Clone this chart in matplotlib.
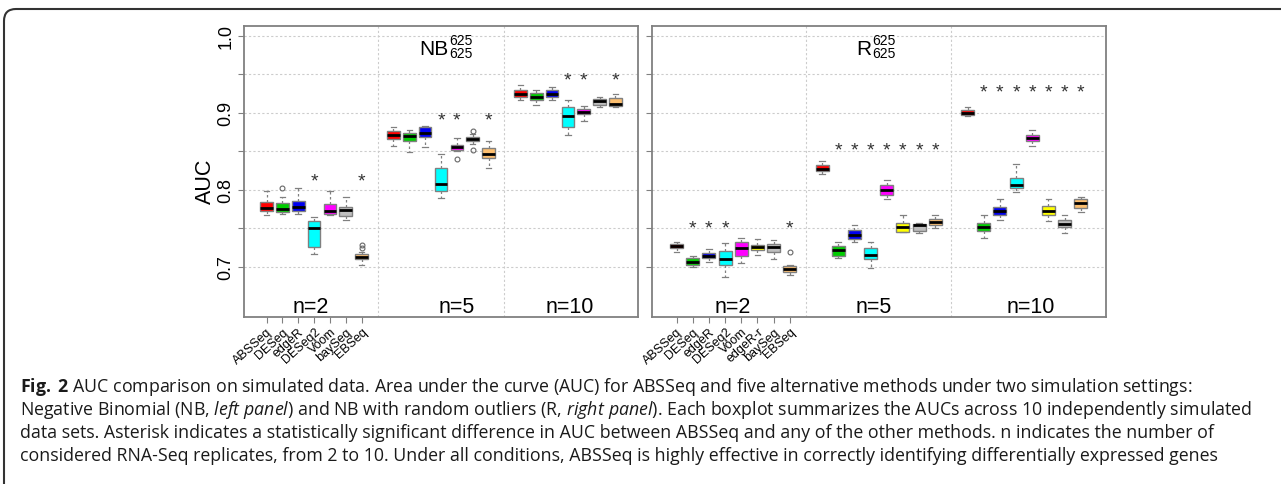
import matplotlib
matplotlib.use("Agg")
import matplotlib.pyplot as plt
from matplotlib.patches import FancyBboxPatch
import numpy as np

plt.rcParams['font.family'] = 'Liberation Sans'
plt.rcParams['mathtext.fontset'] = 'custom'
plt.rcParams['mathtext.rm'] = 'Open Sans'
plt.rcParams['mathtext.it'] = 'Open Sans:italic'
plt.rcParams['mathtext.bf'] = 'Open Sans:bold'

# ---- data ----
groups = ["n=2", "n=5", "n=10"]

nb_methods = ["ABSSeq", "DESeq", "edgeR", "DESeq2", "Voom", "baySeq", "EBSeq"]
nb_colors = ["#FF0000", "#00CD00", "#0000EE", "#00FFFF", "#FF00FF", "#BEBEBE", "#FDBF6F"]

nb_whislo = [[0.768, 0.769, 0.769, 0.717, 0.768, 0.761, 0.703],
             [0.857, 0.849, 0.855, 0.790, 0.851, 0.860, 0.829],
             [0.917, 0.910, 0.916, 0.871, 0.890, 0.907, 0.907]]
nb_q1 = [[0.772, 0.771, 0.773, 0.726, 0.769, 0.766, 0.710],
         [0.866, 0.863, 0.869, 0.798, 0.852, 0.864, 0.841],
         [0.921, 0.916, 0.920, 0.882, 0.898, 0.910, 0.909]]
nb_med = [[0.777, 0.775, 0.778, 0.751, 0.772, 0.774, 0.713],
          [0.871, 0.870, 0.874, 0.808, 0.855, 0.866, 0.847],
          [0.925, 0.921, 0.925, 0.896, 0.901, 0.915, 0.912]]
nb_q3 = [[0.784, 0.783, 0.786, 0.760, 0.782, 0.778, 0.717],
         [0.876, 0.874, 0.881, 0.829, 0.858, 0.869, 0.854],
         [0.929, 0.926, 0.929, 0.907, 0.905, 0.918, 0.919]]
nb_whishi = [[0.798, 0.791, 0.803, 0.765, 0.799, 0.791, 0.720],
             [0.881, 0.878, 0.883, 0.846, 0.867, 0.872, 0.864],
             [0.936, 0.930, 0.933, 0.916, 0.909, 0.921, 0.924]]
nb_fliers = [[[], [0.802], [], [], [], [], [0.725, 0.729]],
             [[], [], [], [], [0.840], [0.852, 0.877], []],
             [[], [], [], [], [], [], []]]
nb_stars = [[3, 6], [3, 4, 6], [3, 4, 6]]
nb_star_y = [0.818, 0.897, 0.949]

r_methods = ["ABSSeq", "DESeq", "edgeR", "DESeq2", "Voom", "edgeR-r", "baySeq", "EBSeq"]
r_colors = ["#FF0000", "#00CD00", "#0000EE", "#00FFFF", "#FF00FF", "#FFFF00", "#BEBEBE", "#FDBF6F"]

r_whislo = [[0.719, 0.700, 0.706, 0.687, 0.705, 0.716, 0.710, 0.689],
            [0.820, 0.711, 0.733, 0.699, 0.788, 0.745, 0.744, 0.751],
            [0.896, 0.738, 0.761, 0.797, 0.857, 0.760, 0.744, 0.771]]
r_q1 = [[0.724, 0.703, 0.711, 0.703, 0.714, 0.722, 0.720, 0.694],
        [0.824, 0.714, 0.736, 0.710, 0.794, 0.746, 0.747, 0.755],
        [0.897, 0.747, 0.767, 0.802, 0.864, 0.767, 0.752, 0.777]]
r_med = [[0.727, 0.707, 0.714, 0.710, 0.724, 0.726, 0.726, 0.698],
         [0.827, 0.722, 0.742, 0.716, 0.800, 0.752, 0.754, 0.758],
         [0.900, 0.752, 0.772, 0.806, 0.867, 0.772, 0.756, 0.783]]
r_q3 = [[0.730, 0.712, 0.718, 0.721, 0.732, 0.729, 0.730, 0.701],
        [0.832, 0.727, 0.748, 0.725, 0.806, 0.757, 0.756, 0.762],
        [0.903, 0.757, 0.778, 0.815, 0.871, 0.779, 0.761, 0.788]]
r_whishi = [[0.733, 0.714, 0.723, 0.731, 0.738, 0.736, 0.735, 0.703],
            [0.837, 0.732, 0.755, 0.733, 0.813, 0.767, 0.757, 0.768],
            [0.908, 0.767, 0.788, 0.834, 0.878, 0.788, 0.768, 0.791]]
r_fliers = [[[], [], [], [], [], [], [], [0.719]],
            [[], [], [], [], [], [], [], []],
            [[], [], [], [], [], [], [], []]]
r_stars = [[1, 2, 3, 7], [1, 2, 3, 4, 5, 6, 7], [1, 2, 3, 4, 5, 6, 7]]
r_star_y = [0.757, 0.858, 0.933]

caption = [
    r"$\mathbf{Fig.}$ $\mathbf{2}$ AUC comparison on simulated data. Area under the curve (AUC) for ABSSeq and five alternative methods under two simulation settings:",
    r"Negative Binomial (NB, $\mathit{left\ panel}$) and NB with random outliers (R, $\mathit{right\ panel}$). Each boxplot summarizes the AUCs across 10 independently simulated",
    "data sets. Asterisk indicates a statistically significant difference in AUC between ABSSeq and any of the other methods. n indicates the number of",
    "considered RNA-Seq replicates, from 2 to 10. Under all conditions, ABSSeq is highly effective in correctly identifying differentially expressed genes",
]

EDGE = "#808080"


# Draw one panel of grouped boxplots
def draw_panel(ax, methods, colors, whislo, q1, med, q3, whishi, fliers,
               stars, star_y, title, title_x, label_x):
    m = len(methods)
    n_pos = len(groups) * (m + 1) - 1
    for g in range(len(groups)):
        start = g * (m + 1) + 1
        pos = list(range(start, start + m))
        stats = []
        for i in range(m):
            stats.append(dict(med=med[g][i], q1=q1[g][i], q3=q3[g][i],
                              whislo=whislo[g][i], whishi=whishi[g][i],
                              fliers=fliers[g][i]))
        bp = ax.bxp(stats, positions=pos, widths=0.8, patch_artist=True,
                    showfliers=True, manage_ticks=False,
                    boxprops=dict(edgecolor=EDGE, linewidth=1.0),
                    medianprops=dict(color="black", linewidth=2.0),
                    whiskerprops=dict(color=EDGE, linewidth=0.9, linestyle=(0, (2, 2))),
                    capprops=dict(color=EDGE, linewidth=0.9),
                    capwidths=0.35,
                    flierprops=dict(marker="o", markersize=3.5, markerfacecolor="none",
                                    markeredgecolor="#666666", markeredgewidth=0.8))
        for patch, c in zip(bp["boxes"], colors):
            patch.set_facecolor(c)
        for i in stars[g]:
            ax.annotate("*", (pos[i], star_y[g]), xytext=(0, -6.5),
                        textcoords="offset points", ha="center", va="baseline",
                        fontsize=14, color="#333333")
        ax.text(label_x[g], 0.6412, groups[g], ha="center", va="baseline", fontsize=15.5)
        if g < len(groups) - 1:
            ax.axvline(start + m, color="#CCCCCC", linestyle=(0, (2, 2)), linewidth=0.8, zorder=0)

    for yv in np.arange(0.7, 1.001, 0.05):
        ax.axhline(yv, color="#CCCCCC", linestyle=(0, (2, 2)), linewidth=0.8, zorder=0)

    pad = 0.04 * (n_pos)
    ax.set_xlim(0.5 - pad, n_pos + 0.5 + pad)
    ax.set_ylim(0.6351, 1.0126)
    ax.set_xticks(range(1, m + 1))
    ax.set_xticklabels(methods, rotation=42, ha="right", rotation_mode="anchor", fontsize=9)
    ax.set_yticks(np.arange(0.7, 1.001, 0.05))
    ax.tick_params(axis="both", length=4, color=EDGE, pad=3)
    ax.tick_params(axis="x", pad=2)
    for s in ax.spines.values():
        s.set_color(EDGE)
        s.set_linewidth(1.3)

    # title with stacked super/subscript
    ax.text(title_x, 0.9757, title, ha="right", va="baseline", fontsize=15)
    ax.text(title_x + 0.05, 0.9893, "625", ha="left", va="baseline", fontsize=10)
    ax.text(title_x + 0.05, 0.9730, "625", ha="left", va="baseline", fontsize=10)


fig = plt.figure(figsize=(12.81, 4.85), dpi=100)

ax1 = fig.add_axes([244 / 1281, 1 - 318 / 485, 394 / 1281, 291 / 485])
ax2 = fig.add_axes([651.7 / 1281, 1 - 318 / 485, 454 / 1281, 291 / 485])

draw_panel(ax1, nb_methods, nb_colors, nb_whislo, nb_q1, nb_med, nb_q3, nb_whishi,
           nb_fliers, nb_stars, nb_star_y, "NB", 12.45, [3.8, 13.0, 20.1])
draw_panel(ax2, r_methods, r_colors, r_whislo, r_q1, r_med, r_q3, r_whishi,
           r_fliers, r_stars, r_star_y, "R", 13.05, [4.5, 13.2, 22.9])

ax1.set_yticklabels(["0.7", "", "0.8", "", "0.9", "", "1.0"], rotation=90,
                    va="center", fontsize=13)
ax2.set_yticklabels([])
fig.text(205 / 1281, 1 - 181 / 485, "AUC", rotation=90, ha="center", va="center", fontsize=15.5)

# rounded caption frame
frame = FancyBboxPatch((4, -60), 1400, 485 - 10 + 60,
                       boxstyle="round,pad=0,rounding_size=12",
                       transform=None, facecolor="none", edgecolor="#333333",
                       linewidth=1.5, zorder=-5)
fig.patches.append(frame)

# caption text
for k, line in enumerate(caption):
    fig.text(20 / 1281, 1 - (392 + 23 * k) / 485, line, ha="left", va="baseline",
             fontsize=12.8, family="Open Sans", color="#1a1a1a")

fig.savefig("out.png", dpi=100)
